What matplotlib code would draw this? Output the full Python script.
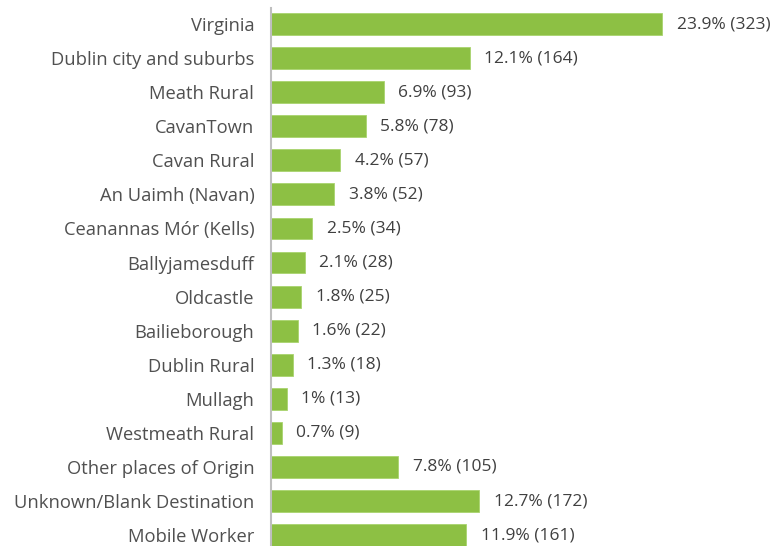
import matplotlib
matplotlib.use("Agg")
import matplotlib.pyplot as plt

places = ["Virginia", "Dublin city and suburbs", "Meath Rural", "CavanTown",
          "Cavan Rural", "An Uaimh (Navan)", "Ceanannas Mór (Kells)",
          "Ballyjamesduff", "Oldcastle", "Bailieborough", "Dublin Rural",
          "Mullagh", "Westmeath Rural", "Other places of Origin",
          "Unknown/Blank Destination", "Mobile Worker"]
counts = [323, 164, 93, 78, 57, 52, 34, 28, 25, 22, 18, 13, 9, 105, 172, 161]
pcts = ["23.9%", "12.1%", "6.9%", "5.8%", "4.2%", "3.8%", "2.5%", "2.1%",
        "1.8%", "1.6%", "1.3%", "1%", "0.7%", "7.8%", "12.7%", "11.9%"]

plt.rcParams['font.family'] = ['Open Sans', 'DejaVu Sans']

fig = plt.figure(figsize=(7.74, 5.46), dpi=100)
ax = fig.add_axes([0.3501, 0.0, 0.6499, 0.9853])

ypos = list(range(len(places)))
ax.barh(ypos, counts, height=0.64, color='#8DC044', edgecolor='#a9d46e', linewidth=0.6)

for y, c, p in zip(ypos, counts, pcts):
    ax.annotate(f"{p} ({c})", (c, y), xytext=(10.5, 0), textcoords='offset points',
                va='center', ha='left', fontsize=12.5, color='#404040', clip_on=False)

ax.set_xlim(0, 415)
ax.set_ylim(15.32, -0.47)
ax.set_yticks(ypos)
ax.set_yticklabels(places, fontsize=13.2, color='#505050')
ax.tick_params(axis='y', length=0, pad=12)
ax.set_xticks([])
for s in ['top', 'right', 'bottom']:
    ax.spines[s].set_visible(False)
ax.spines['left'].set_color('#bfbfbf')
ax.spines['left'].set_linewidth(1.5)

fig.savefig('out.png', dpi=100)
